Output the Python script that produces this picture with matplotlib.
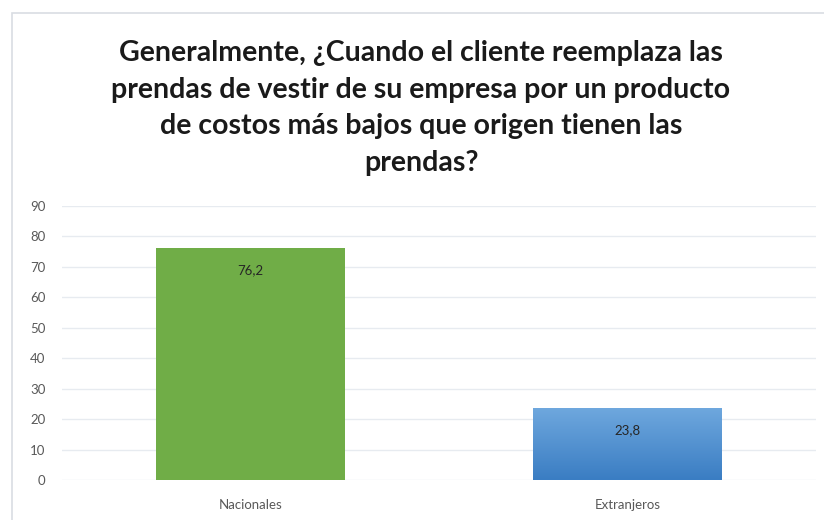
import matplotlib
matplotlib.use("Agg")
import matplotlib.pyplot as plt
import numpy as np
from matplotlib.patches import Rectangle
from matplotlib.colors import LinearSegmentedColormap

categories = ["Nacionales", "Extranjeros"]
values = [76.2, 23.8]
labels = ["76,2", "23,8"]
yticks = [0, 10, 20, 30, 40, 50, 60, 70, 80, 90]

plt.rcParams['font.family'] = ['Lato', 'DejaVu Sans']

fig = plt.figure(figsize=(8.24, 5.2), dpi=100)
fig.patch.set_facecolor("white")
fig.patches.append(Rectangle((12/824, -0.01), 1.0, 1 - 13/520 + 0.01, transform=fig.transFigure,
                             fill=False, edgecolor="#d9dde3", linewidth=1.2))

ax = fig.add_axes([62/824, 1 - 480/520, (816 - 62)/824, (480 - 206)/520])
x = np.arange(len(categories))
bars = ax.bar(x, values, width=0.5, color=["#70ad47", "#4f8fd3"], zorder=2)

# gradient on second bar
b = bars[1]
grad = np.linspace(0, 1, 256).reshape(-1, 1)
cmap = LinearSegmentedColormap.from_list("g", ["#3a7dc3", "#6fa8de"])
bx, by = b.get_x(), b.get_y()
bw, bh = b.get_width(), b.get_height()
im = ax.imshow(grad, cmap=cmap, aspect="auto", origin="lower",
               extent=[bx, bx + bw, by, by + bh], zorder=3)
im.set_clip_path(b)

for i, (v, l) in enumerate(zip(values, labels)):
    ax.annotate(l, (x[i], v), xytext=(0, -16), textcoords="offset points",
                ha="center", va="center", fontsize=9.5, color="#262626", zorder=4)

ax.set_xlim(-0.5, 1.5)
ax.set_ylim(0, 90)
ax.set_yticks(yticks)
ax.set_xticks(x)
ax.set_xticklabels(categories)
ax.tick_params(axis="both", length=0, labelsize=9.5, colors="#595959")
ax.tick_params(axis="y", pad=12)
ax.tick_params(axis="x", pad=14)
for s in ax.spines.values():
    s.set_visible(False)
ax.grid(axis="y", color="#e7ebf0", linewidth=1, zorder=0)
ax.set_axisbelow(True)

fig.text(421/824, 1 - 108/520,
         "Generalmente, ¿Cuando el cliente reemplaza las\nprendas de vestir de su empresa por un producto\nde costos más bajos que origen tienen las\nprendas?",
         ha="center", va="center", fontsize=20.5, fontweight="bold", color="#1a1a1a", linespacing=1.5)

fig.savefig("out.png", dpi=100)
